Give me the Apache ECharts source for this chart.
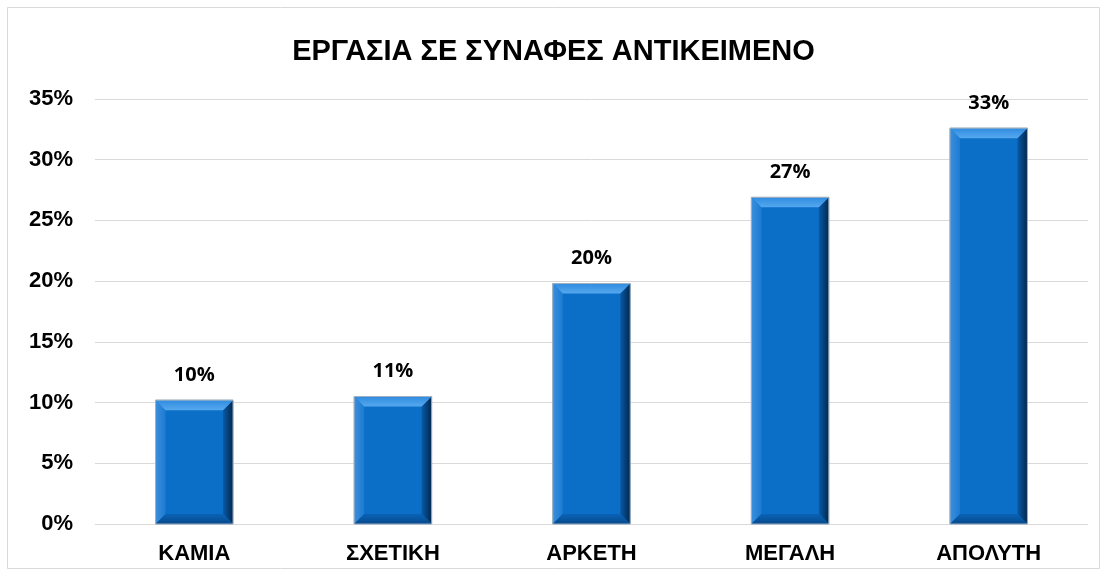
<!DOCTYPE html>
<html><head><meta charset="utf-8">
<script src="https://cdn.jsdelivr.net/npm/echarts@6/dist/echarts.min.js"></script>
<style>html,body{margin:0;padding:0;background:#fff}#c{width:1107px;height:576px}</style>
</head><body><div id="c"></div>
<script>
const categories = ['ΚΑΜΙΑ','ΣΧΕΤΙΚΗ','ΑΡΚΕΤΗ','ΜΕΓΑΛΗ','ΑΠΟΛΥΤΗ'];
const values = [10.2, 10.5, 19.8, 26.9, 32.6];
const titleText = 'ΕΡΓΑΣΙΑ ΣΕ ΣΥΝΑΦΕΣ ΑΝΤΙΚΕΙΜΕΝΟ';

const chart = echarts.init(document.getElementById('c'));
const G = echarts.graphic;
function renderBevel(params, api){
  const ci = api.value(0), v = api.value(1);
  const top = api.coord([ci, v]);
  const base = api.coord([ci, 0]);
  const w = api.size([1,0])[0]*0.39;
  const l = top[0]-w/2, r = top[0]+w/2, t = top[1], bt = base[1];
  const b = 10;
  return {type:'group',children:[
    {type:'rect',shape:{x:l,y:t,width:w,height:bt-t},style:{fill:'#0b6fc8',stroke:'#a9b8c8',lineWidth:1}},
    {type:'polygon',shape:{points:[[l,t],[l+b,t+b],[l+b,bt-b],[l,bt]]},
      style:{fill:new G.LinearGradient(0,0,1,0,[{offset:0,color:'#3b8fdc'},{offset:1,color:'#1c7bd2'}])}},
    {type:'polygon',shape:{points:[[r,t],[r,bt],[r-b,bt-b],[r-b,t+b]]},
      style:{fill:new G.LinearGradient(0,0,1,0,[{offset:0,color:'#0959a8'},{offset:1,color:'#02284d'}])}},
    {type:'polygon',shape:{points:[[l,bt],[l+b,bt-b],[r-b,bt-b],[r,bt]]},
      style:{fill:new G.LinearGradient(0,0,0,1,[{offset:0,color:'#0a62b6'},{offset:1,color:'#074a8c'}])}},
    {type:'polygon',shape:{points:[[l,t],[r,t],[r-b,t+b],[l+b,t+b]]},
      style:{fill:new G.LinearGradient(0,0,0,1,[{offset:0,color:'#2f8ce0'},{offset:1,color:'#56a8ee'}])}},
    {type:'rect',shape:{x:l,y:t,width:w,height:bt-t},style:{fill:'none',stroke:'#9fb0c2',lineWidth:1}}
  ]};
}
chart.setOption({
  animation:false,
  graphic:[{type:'rect',shape:{x:7.5,y:7.5,width:1092,height:561},style:{fill:'none',stroke:'#d9d9d9',lineWidth:1}}],
  title:{text:titleText,left:'center',top:32,textStyle:{fontFamily:'Liberation Sans',fontSize:29,fontWeight:'bold',color:'#000'}},
  grid:{left:95,right:19,top:99,bottom:52},
  xAxis:{type:'category',data:categories,axisLine:{show:false},axisTick:{show:false},
    axisLabel:{fontFamily:'Liberation Sans',fontSize:22,fontWeight:'bold',color:'#000',margin:19}},
  yAxis:{type:'value',min:0,max:35,interval:5,axisLine:{show:false},axisTick:{show:false},
    splitLine:{lineStyle:{color:'#d9d9d9',width:1}},
    axisLabel:{formatter:'{value}%',fontFamily:'Liberation Sans',fontSize:22,fontWeight:'bold',color:'#000',margin:22}},
  series:[
    {type:'bar',data:values,barWidth:'39%',itemStyle:{color:'rgba(0,0,0,0)'},
     label:{show:true,position:'top',distance:15,formatter:p=>Math.round(p.value)+'%',
      fontFamily:'Open Sans',fontSize:20,fontWeight:'bold',color:'#000'}},
    {type:'custom',renderItem:renderBevel,data:values.map((v,i)=>[i,v]),z:1}
  ]
});
</script></body></html>
